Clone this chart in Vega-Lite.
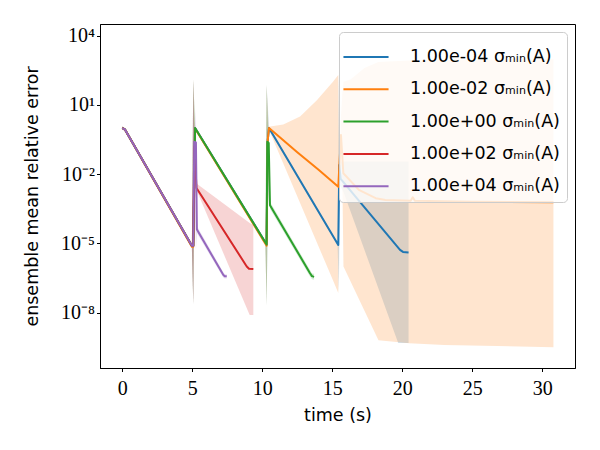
{
  "$schema": "https://vega.github.io/schema/vega-lite/v6.json",
  "width": 475,
  "height": 344,
  "autosize": "none",
  "padding": {"left": 100, "top": 24, "right": 25, "bottom": 82},
  "config": {
    "view": {"stroke": "black", "strokeWidth": 1},
    "axis": {
      "grid": false,
      "domainColor": "black",
      "tickColor": "black",
      "tickSize": 3.5,
      "labelFont": "Liberation Serif",
      "labelFontSize": 20,
      "labelColor": "black",
      "titleFont": "DejaVu Sans",
      "titleFontSize": 17.5,
      "titleFontWeight": "normal",
      "titleColor": "black"
    }
  },
  "datasets": {
    "lines": [
      {"c": "1.00e-04", "t": 0, "v": 1.0}, {"c": "1.00e-04", "t": 0.2, "v": 0.85}, {"c": "1.00e-04", "t": 4.97, "v": 7.94e-6}, {"c": "1.00e-04", "t": 5.07, "v": 7.94e-6},
      {"c": "1.00e-04", "t": 5.2, "v": 1.0}, {"c": "1.00e-04", "t": 10.31, "v": 8.91e-6}, {"c": "1.00e-04", "t": 10.38, "v": 0.251}, {"c": "1.00e-04", "t": 10.48, "v": 1.0},
      {"c": "1.00e-04", "t": 15.43, "v": 8.51e-6}, {"c": "1.00e-04", "t": 15.5, "v": 0.0251}, {"c": "1.00e-04", "t": 15.6, "v": 0.00631}, {"c": "1.00e-04", "t": 19.84, "v": 5.25e-6},
      {"c": "1.00e-04", "t": 20.05, "v": 4.27e-6}, {"c": "1.00e-04", "t": 20.45, "v": 4.07e-6},

      {"c": "1.00e-02", "t": 0, "v": 1.0}, {"c": "1.00e-02", "t": 0.2, "v": 0.84}, {"c": "1.00e-02", "t": 4.97, "v": 7.2e-6}, {"c": "1.00e-02", "t": 5.07, "v": 7.2e-6},
      {"c": "1.00e-02", "t": 5.2, "v": 0.95}, {"c": "1.00e-02", "t": 10.31, "v": 8.0e-6}, {"c": "1.00e-02", "t": 10.38, "v": 0.251}, {"c": "1.00e-02", "t": 10.48, "v": 1.0},
      {"c": "1.00e-02", "t": 12.5, "v": 0.0891}, {"c": "1.00e-02", "t": 14.0, "v": 0.0158}, {"c": "1.00e-02", "t": 15.43, "v": 0.00282}, {"c": "1.00e-02", "t": 15.62, "v": 0.501},
      {"c": "1.00e-02", "t": 15.79, "v": 0.011}, {"c": "1.00e-02", "t": 16.9, "v": 0.00209}, {"c": "1.00e-02", "t": 18.1, "v": 0.000912}, {"c": "1.00e-02", "t": 18.8, "v": 0.000759},
      {"c": "1.00e-02", "t": 20.6, "v": 0.000708}, {"c": "1.00e-02", "t": 20.75, "v": 0.001}, {"c": "1.00e-02", "t": 20.9, "v": 0.000708}, {"c": "1.00e-02", "t": 25, "v": 0.000631},
      {"c": "1.00e-02", "t": 30.8, "v": 0.000603},

      {"c": "1.00e+00", "t": 0, "v": 1.0}, {"c": "1.00e+00", "t": 0.2, "v": 0.85}, {"c": "1.00e+00", "t": 4.97, "v": 7.94e-6}, {"c": "1.00e+00", "t": 5.07, "v": 7.94e-6},
      {"c": "1.00e+00", "t": 5.2, "v": 1.0}, {"c": "1.00e+00", "t": 10.31, "v": 8.91e-6}, {"c": "1.00e+00", "t": 10.36, "v": 0.251}, {"c": "1.00e+00", "t": 10.46, "v": 0.224},
      {"c": "1.00e+00", "t": 10.55, "v": 0.000447}, {"c": "1.00e+00", "t": 13.4, "v": 5.25e-7}, {"c": "1.00e+00", "t": 13.55, "v": 3.8e-7}, {"c": "1.00e+00", "t": 13.7, "v": 3.55e-7},

      {"c": "1.00e+02", "t": 0, "v": 1.0}, {"c": "1.00e+02", "t": 0.2, "v": 0.85}, {"c": "1.00e+02", "t": 4.97, "v": 7.94e-6}, {"c": "1.00e+02", "t": 5.07, "v": 7.94e-6},
      {"c": "1.00e+02", "t": 5.15, "v": 0.158}, {"c": "1.00e+02", "t": 5.3, "v": 0.00251}, {"c": "1.00e+02", "t": 8.89, "v": 1e-6}, {"c": "1.00e+02", "t": 9.05, "v": 7.94e-7},
      {"c": "1.00e+02", "t": 9.36, "v": 7.76e-7},

      {"c": "1.00e+04", "t": 0, "v": 1.0}, {"c": "1.00e+04", "t": 0.2, "v": 0.85}, {"c": "1.00e+04", "t": 4.97, "v": 7.94e-6}, {"c": "1.00e+04", "t": 5.07, "v": 7.94e-6},
      {"c": "1.00e+04", "t": 5.14, "v": 0.251}, {"c": "1.00e+04", "t": 5.26, "v": 0.237}, {"c": "1.00e+04", "t": 5.33, "v": 3.98e-5}, {"c": "1.00e+04", "t": 7.21, "v": 4.37e-7},
      {"c": "1.00e+04", "t": 7.32, "v": 3.72e-7}, {"c": "1.00e+04", "t": 7.46, "v": 3.72e-7}
    ],
    "bands": [
      {"c": "1.00e-04", "t": 0, "lo": 0.871, "hi": 1.148}, {"c": "1.00e-04", "t": 0.2, "lo": 0.741, "hi": 0.977}, {"c": "1.00e-04", "t": 4.97, "lo": 6.92e-6, "hi": 9.12e-6},
      {"c": "1.00e-04", "t": 5.07, "lo": 2.24e-8, "hi": 125.9}, {"c": "1.00e-04", "t": 5.2, "lo": 0.871, "hi": 1.148}, {"c": "1.00e-04", "t": 10.22, "lo": 9.55e-6, "hi": 1.26e-5},
      {"c": "1.00e-04", "t": 10.31, "lo": 2.0e-8, "hi": 74.1}, {"c": "1.00e-04", "t": 10.48, "lo": 0.871, "hi": 1.148}, {"c": "1.00e-04", "t": 15.38, "lo": 8.32e-6, "hi": 1.096e-5},
      {"c": "1.00e-04", "t": 15.47, "lo": 7.94e-8, "hi": 199.5}, {"c": "1.00e-04", "t": 15.55, "lo": 0.00316, "hi": 0.0355}, {"c": "1.00e-04", "t": 15.79, "lo": 0.00178, "hi": 0.0355},
      {"c": "1.00e-04", "t": 19.71, "lo": 4.79e-10, "hi": 0.0355}, {"c": "1.00e-04", "t": 20.45, "lo": 4.79e-10, "hi": 0.0355},

      {"c": "1.00e-02", "t": 0, "lo": 0.871, "hi": 1.148}, {"c": "1.00e-02", "t": 0.2, "lo": 0.741, "hi": 0.977}, {"c": "1.00e-02", "t": 4.97, "lo": 6.92e-6, "hi": 9.12e-6},
      {"c": "1.00e-02", "t": 5.07, "lo": 2.24e-8, "hi": 125.9}, {"c": "1.00e-02", "t": 5.2, "lo": 0.871, "hi": 1.148}, {"c": "1.00e-02", "t": 10.22, "lo": 9.55e-6, "hi": 1.26e-5},
      {"c": "1.00e-02", "t": 10.31, "lo": 2.0e-8, "hi": 74.1}, {"c": "1.00e-02", "t": 10.45, "lo": 0.5, "hi": 1.122}, {"c": "1.00e-02", "t": 10.56, "lo": 0.631, "hi": 1.148},
      {"c": "1.00e-02", "t": 11.5, "lo": 0.0288, "hi": 1.413}, {"c": "1.00e-02", "t": 12.7, "lo": 5.62e-4, "hi": 3.162}, {"c": "1.00e-02", "t": 13.9, "lo": 1.096e-5, "hi": 15.85},
      {"c": "1.00e-02", "t": 15.05, "lo": 2.51e-7, "hi": 100}, {"c": "1.00e-02", "t": 15.43, "lo": 7.08e-8, "hi": 199.5}, {"c": "1.00e-02", "t": 15.5, "lo": 0.00251, "hi": 0.00501},
      {"c": "1.00e-02", "t": 15.62, "lo": 0.126, "hi": 3.162}, {"c": "1.00e-02", "t": 15.72, "lo": 0.00501, "hi": 31.6}, {"c": "1.00e-02", "t": 15.8, "lo": 1e-6, "hi": 100},
      {"c": "1.00e-02", "t": 16.3, "lo": 2.29e-7, "hi": 125.9}, {"c": "1.00e-02", "t": 17.3, "lo": 1.2e-8, "hi": 398}, {"c": "1.00e-02", "t": 18.3, "lo": 6.31e-10, "hi": 724},
      {"c": "1.00e-02", "t": 20.5, "lo": 4.68e-10, "hi": 832}, {"c": "1.00e-02", "t": 23.0, "lo": 3.98e-10, "hi": 891}, {"c": "1.00e-02", "t": 30.8, "lo": 3.16e-10, "hi": 955},

      {"c": "1.00e+00", "t": 0, "lo": 0.871, "hi": 1.148}, {"c": "1.00e+00", "t": 0.2, "lo": 0.741, "hi": 0.977}, {"c": "1.00e+00", "t": 4.97, "lo": 6.92e-6, "hi": 9.12e-6},
      {"c": "1.00e+00", "t": 5.07, "lo": 2.24e-8, "hi": 125.9}, {"c": "1.00e+00", "t": 5.2, "lo": 0.871, "hi": 1.148}, {"c": "1.00e+00", "t": 10.22, "lo": 9.55e-6, "hi": 1.26e-5},
      {"c": "1.00e+00", "t": 10.31, "lo": 2.0e-8, "hi": 74.1}, {"c": "1.00e+00", "t": 10.45, "lo": 0.178, "hi": 0.316}, {"c": "1.00e+00", "t": 10.55, "lo": 3.16e-4, "hi": 6.31e-4},
      {"c": "1.00e+00", "t": 13.4, "lo": 3.8e-7, "hi": 7.24e-7}, {"c": "1.00e+00", "t": 13.55, "lo": 2.82e-7, "hi": 5.01e-7}, {"c": "1.00e+00", "t": 13.7, "lo": 2.63e-7, "hi": 4.79e-7},

      {"c": "1.00e+02", "t": 0, "lo": 0.871, "hi": 1.148}, {"c": "1.00e+02", "t": 0.2, "lo": 0.741, "hi": 0.977}, {"c": "1.00e+02", "t": 4.97, "lo": 6.92e-6, "hi": 9.12e-6},
      {"c": "1.00e+02", "t": 5.07, "lo": 2.24e-8, "hi": 125.9}, {"c": "1.00e+02", "t": 5.15, "lo": 0.1, "hi": 0.251}, {"c": "1.00e+02", "t": 5.3, "lo": 2.04e-3, "hi": 3.98e-3},
      {"c": "1.00e+02", "t": 9.1, "lo": 7.94e-9, "hi": 7.59e-5}, {"c": "1.00e+02", "t": 9.36, "lo": 7.94e-9, "hi": 6.31e-5},

      {"c": "1.00e+04", "t": 0, "lo": 0.871, "hi": 1.148}, {"c": "1.00e+04", "t": 0.2, "lo": 0.741, "hi": 0.977}, {"c": "1.00e+04", "t": 4.97, "lo": 6.92e-6, "hi": 9.12e-6},
      {"c": "1.00e+04", "t": 5.07, "lo": 2.24e-8, "hi": 125.9}, {"c": "1.00e+04", "t": 5.14, "lo": 0.2, "hi": 0.316}, {"c": "1.00e+04", "t": 5.26, "lo": 5.01e-6, "hi": 6.31},
      {"c": "1.00e+04", "t": 5.33, "lo": 2.82e-5, "hi": 5.62e-5}, {"c": "1.00e+04", "t": 7.21, "lo": 3.31e-7, "hi": 5.75e-7}, {"c": "1.00e+04", "t": 7.32, "lo": 3.02e-7, "hi": 4.57e-7},
      {"c": "1.00e+04", "t": 7.46, "lo": 3.02e-7, "hi": 4.57e-7}
    ]
  },
  "encoding": {
    "x": {
      "field": "t",
      "type": "quantitative",
      "scale": {"domain": [-1.593, 32.34], "nice": false, "zero": false},
      "axis": {"title": "time (s)", "values": [0, 5, 10, 15, 20, 25, 30], "labelPadding": 7, "titlePadding": 8}
    },
    "color": {
      "field": "c",
      "type": "nominal",
      "scale": {
        "domain": ["1.00e-04", "1.00e-02", "1.00e+00", "1.00e+02", "1.00e+04"],
        "range": ["#1f77b4", "#ff7f0e", "#2ca02c", "#d62728", "#9467bd"]
      },
      "legend": {
        "title": null,
        "orient": "top-right",
        "offset": 8,
        "fillColor": "rgba(255,255,255,0.8)",
        "strokeColor": "#cccccc",
        "cornerRadius": 4,
        "padding": 7,
        "symbolType": "M-1.36,0H1.36",
        "symbolSize": 1100,
        "symbolStrokeWidth": 2,
        "symbolOpacity": 1,
        "symbolFillColor": "transparent",
        "symbolOffset": 2,
        "labelFont": "DejaVu Sans",
        "labelFontSize": 17.5,
        "labelColor": "black",
        "labelOffset": 26,
        "labelLimit": 300,
        "rowPadding": 5.3,
        "labelExpr": "datum.label + ' σₘᵢₙ(A)'"
      }
    }
  },
  "layer": [
    {
      "data": {"name": "bands"},
      "mark": {"type": "area", "opacity": 0.2, "clip": true},
      "encoding": {
        "y": {
          "field": "hi",
          "type": "quantitative",
          "scale": {"type": "log", "domain": [3.98e-11, 32140], "nice": false},
          "axis": {
            "title": "ensemble mean relative error",
            "values": [1e-8, 1e-5, 0.01, 10, 10000],
            "labelExpr": "round(log(datum.value)/LN10) == 4 ? '10⁴' : round(log(datum.value)/LN10) == 1 ? '10¹' : round(log(datum.value)/LN10) == -2 ? '10⁻²' : round(log(datum.value)/LN10) == -5 ? '10⁻⁵' : '10⁻⁸'",
            "labelPadding": 2,
            "titlePadding": 19
          }
        },
        "y2": {"field": "lo"}
      }
    },
    {
      "data": {"name": "lines"},
      "mark": {"type": "line", "strokeWidth": 2, "strokeJoin": "round", "clip": true},
      "encoding": {
        "y": {"field": "v", "type": "quantitative"}
      }
    }
  ]
}
